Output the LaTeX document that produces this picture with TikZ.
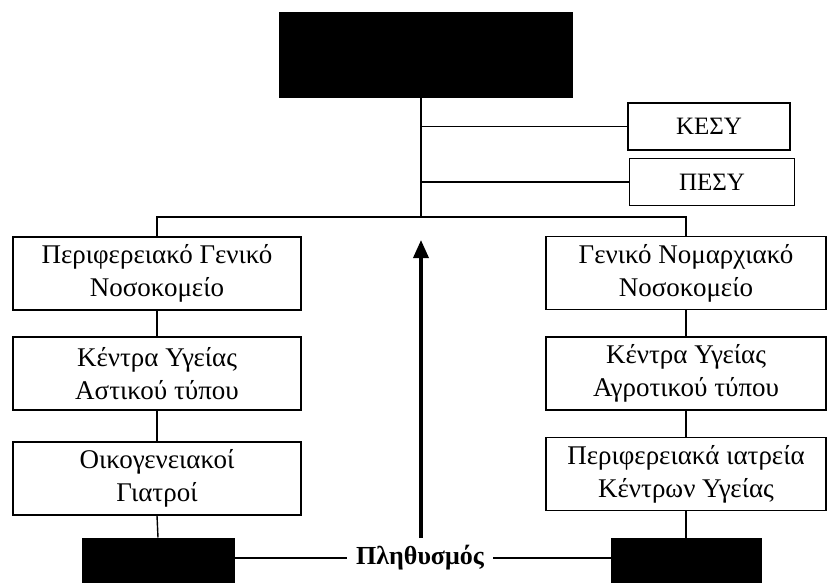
\documentclass[tikz,border=0pt]{standalone}
\usepackage{fontspec}
\setmainfont{Liberation Serif}
\usetikzlibrary{arrows.meta}

\begin{document}
\begin{tikzpicture}[x=1pt,y=-1pt,
		box/.style={draw, line width=1.3pt, align=center, inner sep=0pt, minimum height=73pt, font=\fontsize{27}{33}\selectfont},
		smallbox/.style={box, minimum height=47pt, font=\fontsize{25}{30}\selectfont},
		blackbox/.style={draw, fill=black, line width=1pt, inner sep=0pt},
		link/.style={line width=1.4pt}]
		\clip (0,0) rectangle (827,583);
		
		% top box (unreadable in the scan)
		\node[blackbox, minimum width=293pt, minimum height=85pt] (top) at (426,55) {};
		\coordinate (hub) at (421,217);
		\draw[link] (top.south -| hub)--(hub);
		
		\node[smallbox, minimum width=162pt] (kesy) at (709,126.5) {ΚΕΣΥ};
		\node[smallbox, minimum width=165pt] (pesy) at (712,182) {ΠΕΣΥ};
		\draw[link] (kesy.west)--(kesy.west -| hub);
		\draw[link] (pesy.west)--(pesy.west -| hub);
		
		% left column
		\node[box, minimum width=288pt] (pgn) at (157,273.5) {Περιφερειακό Γενικό\\Νοσοκομείο};
		\node[box, minimum width=288pt] (kyas) at (157,373.5) {Κέντρα Υγείας\\Αστικού τύπου};
		\node[box, minimum width=288pt] (oik) at (157,478.5) {Οικογενειακοί\\Γιατροί};
		\node[blackbox, minimum width=152pt, minimum height=62pt] (lpop) at (158,569) {};
		
		% right column
		\node[box, minimum width=280pt] (gnn) at (686,273) {Γενικό Νομαρχιακό\\Νοσοκομείο};
		\node[box, minimum width=280pt] (kyag) at (686,373.5) {Κέντρα Υγείας\\Αγροτικού τύπου};
		\node[box, minimum width=280pt] (pik) at (686,474) {Περιφερειακά ιατρεία\\Κέντρων Υγείας};
		\node[blackbox, minimum width=150pt, minimum height=62pt] (rpop) at (686,569) {};
		
		\draw[link] (pgn.north) |- (hub) -| (gnn.north);
		\draw[link] (pgn.south)--(kyas.north);
		\draw[link] (kyas.south)--(oik.north);
		\draw[link] (oik.south)--(lpop.north);
		\draw[link] (gnn.south)--(kyag.north);
		\draw[link] (kyag.south)--(pik.north);
		\draw[link] (pik.south)--(rpop.north);
		
		\node[font=\bfseries\fontsize{26}{31}\selectfont, inner ysep=0pt, inner xsep=9pt] (pop) at (420,558) {Πληθυσμός};
		\draw[link] (pop.west)--(pop.west -| lpop.east);
		\draw[link] (pop.east)--(pop.east -| rpop.west);
		
		\coordinate (arrbase) at (421,538);
		\coordinate (arrtip) at (421,240);
		\draw[line width=3.5pt, -{Triangle[length=18pt,width=15pt]}] (arrbase)--(arrtip);
	\end{tikzpicture}
\end{document}
